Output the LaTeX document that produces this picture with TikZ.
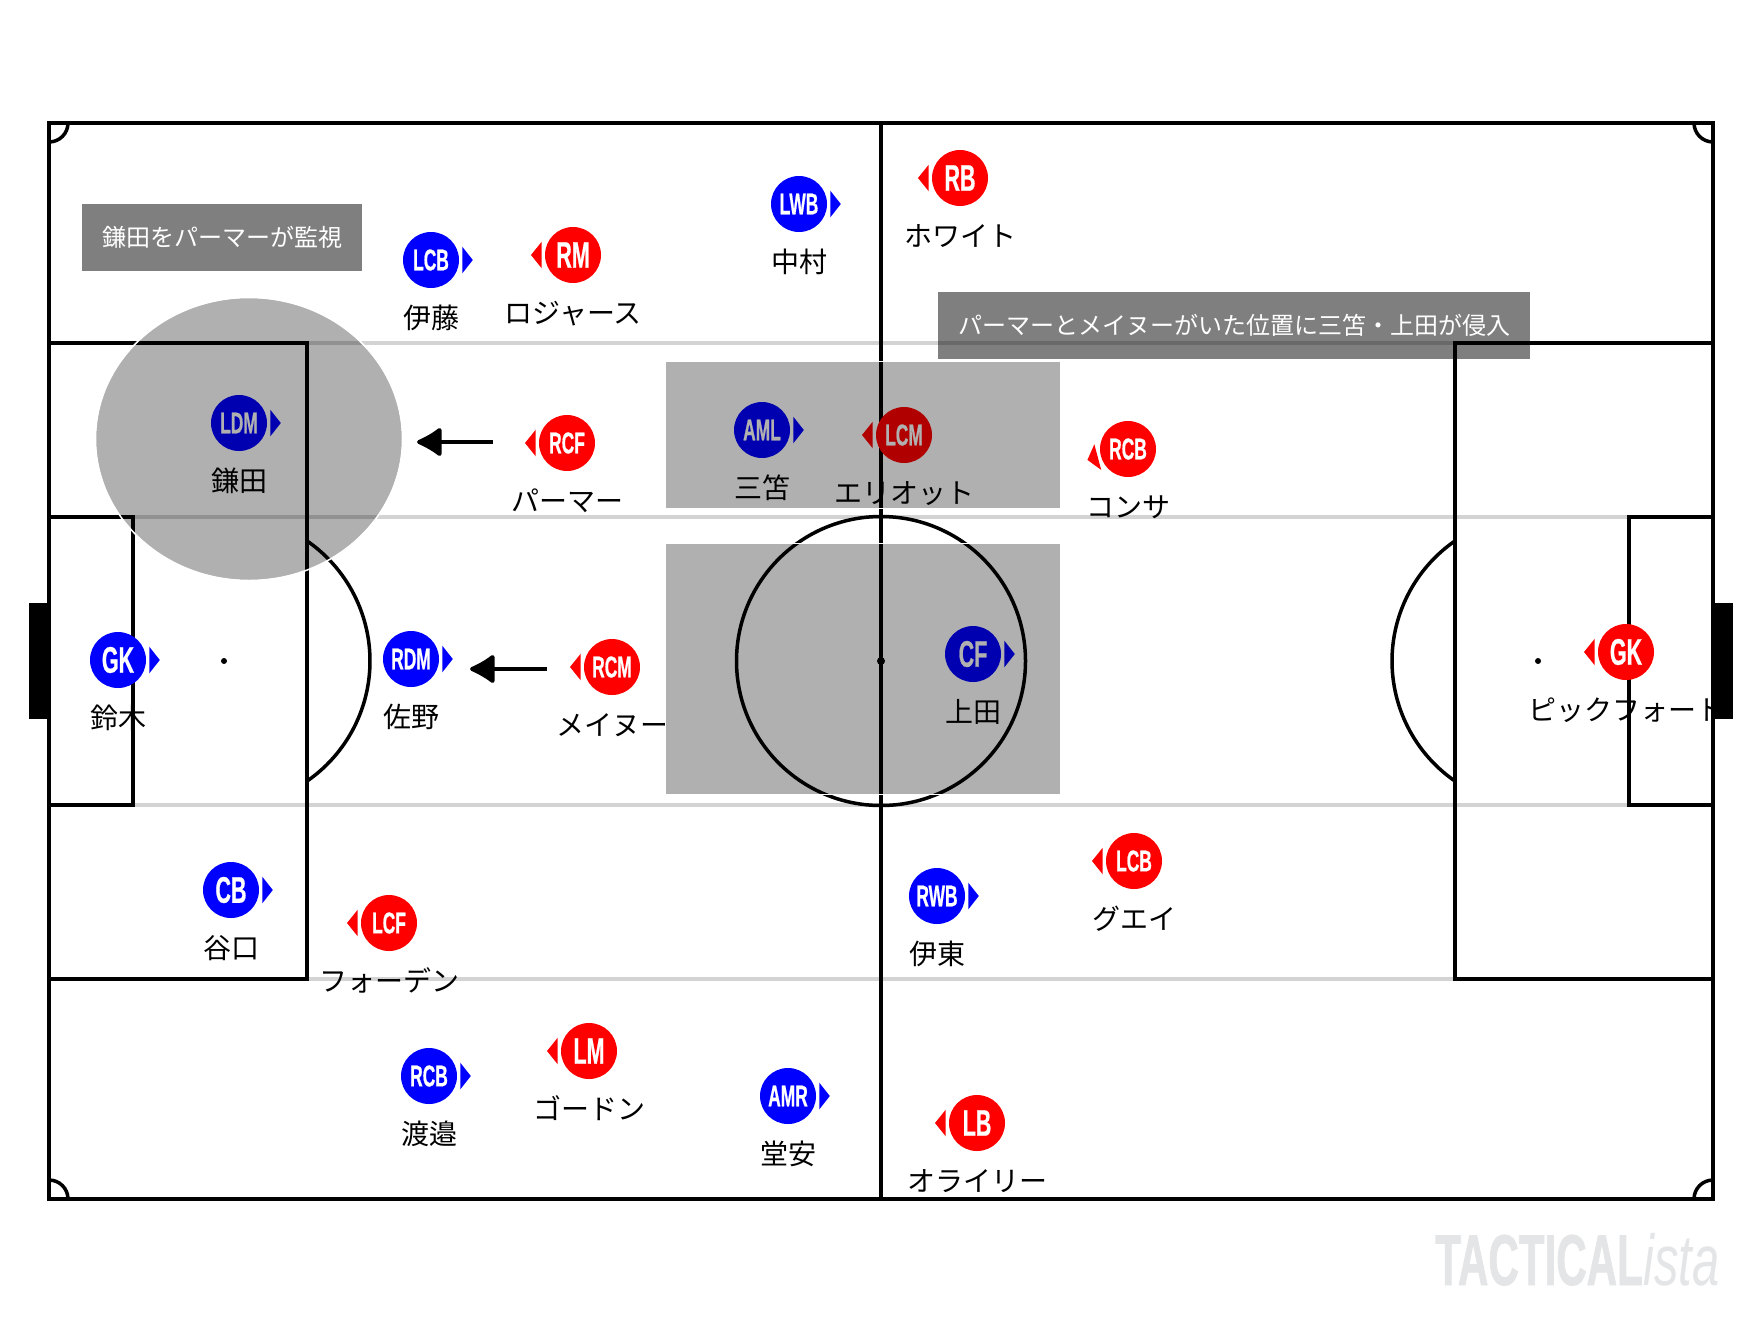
\documentclass[tikz,border=0pt]{standalone}
\usepackage{fontspec}
\usetikzlibrary{arrows.meta}

\newfontfamily\jpfont{Noto Sans CJK JP}
\newfontfamily\tagfont[FakeStretch=0.58,FakeBold=0.6]{Liberation Sans Bold}
\newfontfamily\markfont[FakeStretch=0.585,FakeBold=1]{Liberation Sans Bold}
\newfontfamily\istafont[FakeStretch=0.68]{Liberation Sans Italic}

\definecolor{fieldgrey}{HTML}{D3D3D3}
\definecolor{markgrey}{HTML}{E4E5E6}

\tikzset{
  pitchline/.style={draw=black,line width=4pt},
  thinline/.style={draw=black,line width=3.5pt},
  greyline/.style={draw=fieldgrey,line width=4pt},
  bluetag/.style={circle,fill=blue,minimum size=56pt,inner sep=0pt,text=white},
  redtag/.style={circle,fill=red,minimum size=56pt,inner sep=0pt,text=white},
  jpname/.style={anchor=base,inner sep=0pt,font=\jpfont\fontsize{28}{30}\selectfont},
  shade/.style={fill=black,fill opacity=.31},
  halo/.style={draw=white,line width=1.5pt},
  notebox/.style={fill=black,fill opacity=.5},
  notetext/.style={inner sep=0pt,text=white,font=\jpfont\fontsize{24}{28}\selectfont},
  movearrow/.style={draw=black,line width=4pt,-{Latex[round,length=28pt,width=33pt]}}
}

\begin{document}
\begin{tikzpicture}[x=1pt,y=-1pt]

    \useasboundingbox (0,0) rectangle (1760,1320);

    % Halfway and box lines running across the field
    \draw[greyline] (307,343) -- (1455,343);
    \draw[greyline] (133,517) -- (1629,517);
    \draw[greyline] (133,805) -- (1629,805);
    \draw[greyline] (307,979) -- (1455,979);

    % Outer lines and the halfway line
    \draw[pitchline] (49,123) rectangle (1713,1199);
    \draw[pitchline] (881,123) -- (881,1199);

    % Boxes on both ends
    \draw[pitchline] (49,343) rectangle (307,979);
    \draw[pitchline] (49,517) rectangle (133,805);
    \draw[pitchline] (1713,343) rectangle (1455,979);
    \draw[pitchline] (1713,517) rectangle (1629,805);

    % Goals
    \fill (29,603) rectangle (49,719);
    \fill (1713,603) rectangle (1733,719);

    % Circles and spots
    \draw[thinline] (881,661) circle (144.5);
    \fill (881,661) circle (4);
    \fill (224,661) circle (3);
    \fill (1538,661) circle (3);
    \draw[thinline] (224,661) ++(-55:146) arc (-55:55:146);
    \draw[thinline] (1538,661) ++(125:146) arc (125:235:146);

    % Corner arcs
    \draw[thinline] (49,142) arc (90:0:19);
    \draw[thinline] (1713,142) arc (90:180:19);
    \draw[thinline] (49,1180) arc (-90:0:19);
    \draw[thinline] (1713,1180) arc (-90:-180:19);

    % Blue team, arrow tip to the right
    \foreach \nm/\x/\y/\lab/\fs/\jp in {
      lwb/799/204/LWB/30/中村, lcbb/431/260/LCB/30/伊藤, ldm/239/423/LDM/30/鎌田,
      aml/762/430/AML/30/三笘, gkb/118/660/GK/37/鈴木, rdm/411/659/RDM/30/佐野,
      cf/973/654/CF/37/上田, cb/231/890/CB/37/谷口, rwb/937/896/RWB/30/伊東,
      rcbb/429/1076/RCB/30/渡邉, amr/788/1096/AMR/30/堂安}{
      \fill[blue] (\x,\y) ++(-23:34) -- ++(10.5,13.3) -- ++(-10.5,13.3) -- cycle;
      \node[bluetag,font=\tagfont\fontsize{\fs}{\fs}\selectfont] (\nm) at (\x,\y) {\lab};
      \node[jpname] (\nm-name) at (\x,\y+68) {\jp};
    }

    % Red team, arrow tip to the left
    \foreach \nm/\x/\y/\lab/\fs/\ang/\jp in {
      rb/960/178/RB/37/180/ホワイト, rm/573/255/RM/37/180/ロジャース,
      rcf/567/443/RCF/30/180/パーマー, lcm/904/435/LCM/30/180/エリオット,
      rcbr/1128/449/RCB/30/165/コンサ, rcm/612/667/RCM/30/180/メイヌー,
      gkr/1626/652/GK/37/180/ピックフォート, lcbr/1134/861/LCB/30/180/グエイ,
      lcf/389/923/LCF/30/180/フォーデン, lm/589/1051/LM/37/180/ゴードン,
      lb/977/1123/LB/37/180/オライリー}{
      \fill[red] ([shift={(\ang-23:34)}]\x,\y) -- ([shift={(\ang:42)}]\x,\y)
        -- ([shift={(\ang+23:34)}]\x,\y) -- cycle;
      \node[redtag,font=\tagfont\fontsize{\fs}{\fs}\selectfont] (\nm) at (\x,\y) {\lab};
      \node[jpname] (\nm-name) at (\x,\y+68) {\jp};
    }

    % Where the two players were pulled away to
    \coordinate (tailrcf) at (493,442);
    \coordinate (tiprcf) at (417,442);
    \coordinate (tailrcm) at (547,669);
    \coordinate (tiprcm) at (470,669);
    \draw[movearrow] (tailrcf) -- (tiprcf);
    \draw[movearrow] (tailrcm) -- (tiprcm);

    % Shaded zones lie over everything drawn so far
    \fill[shade] (249,439) ellipse (153 and 141);
    \fill[shade] (666,362) rectangle (1060,508);
    \fill[shade] (666,544) rectangle (1060,794);
    \draw[halo] (249,439) ellipse (153.5 and 141.5);
    \draw[halo] (665.5,361.5) rectangle (1060.5,508.5);
    \draw[halo] (665.5,543.5) rectangle (1060.5,794.5);

    % Notes
    \fill[notebox] (82,204) rectangle (362,271);
    \node[notetext] (notekamada) at (222,237) {鎌田をパーマーが監視};
    \fill[notebox] (938,292) rectangle (1530,359);
    \node[notetext] (noteinrush) at (1234,325) {パーマーとメイヌーがいた位置に三笘・上田が侵入};

    % Watermark
    \node[anchor=base east,inner sep=0pt,text=markgrey,font=\markfont\fontsize{72}{72}\selectfont]
      (markbold) at (1643,1285) {TACTICAL};
    \node[anchor=base west,inner sep=0pt,text=markgrey,font=\istafont\fontsize{72}{72}\selectfont]
      (markista) at (markbold.base east) {ista};

\end{tikzpicture}
\end{document}
